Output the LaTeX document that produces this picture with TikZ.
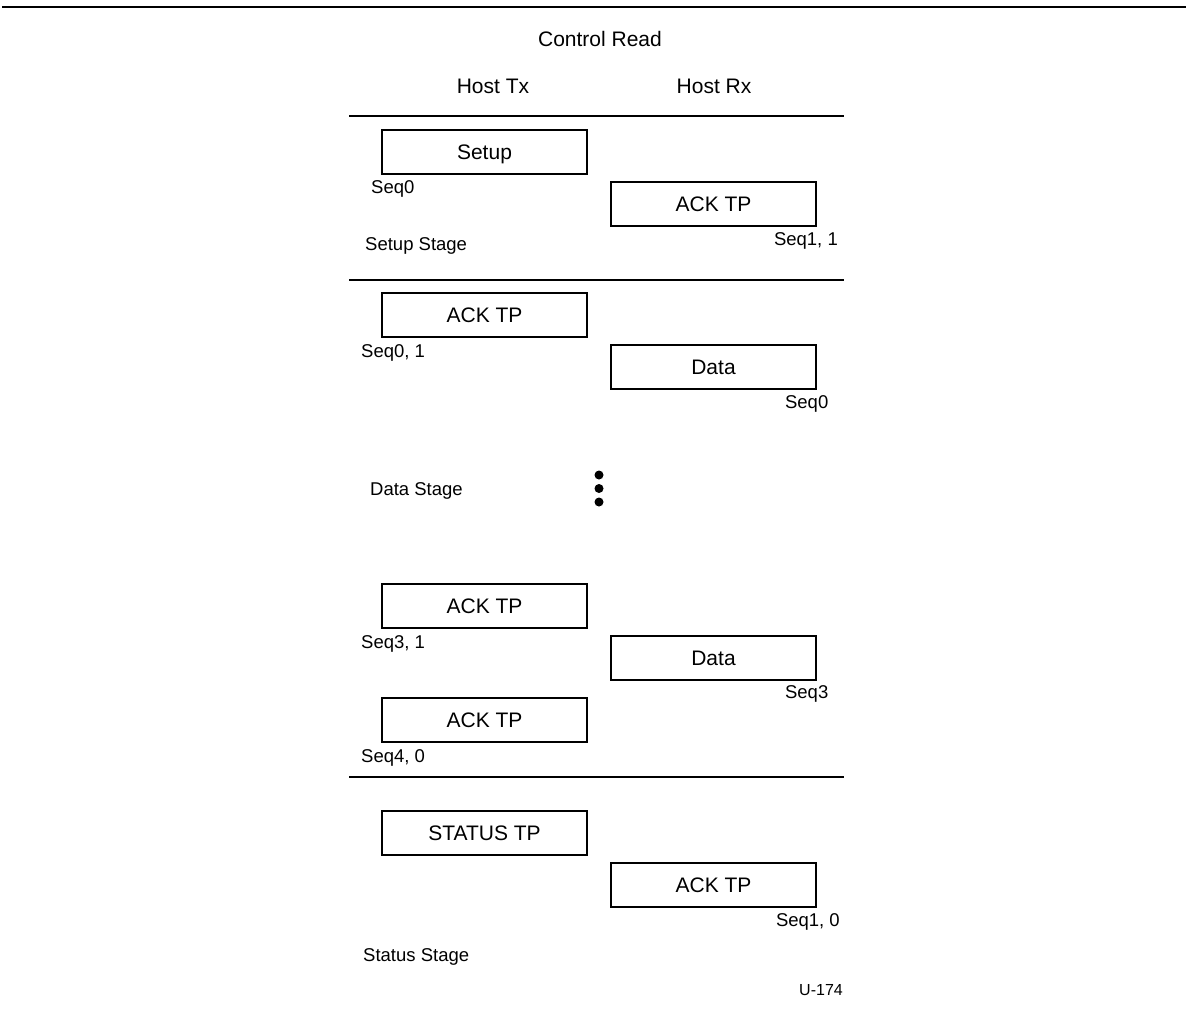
\documentclass[tikz,border=0pt]{standalone}
\usepackage{fontspec}
\setmainfont{Liberation Sans}
\begin{document}
\begin{tikzpicture}[x=1pt,y=-1pt,
  pkt/.style={draw,line width=1.3pt,minimum width=205pt,minimum height=44pt,inner sep=0pt,
    font=\fontsize{21}{24}\selectfont,text height=15pt,text depth=0pt},
  head/.style={inner sep=0pt,font=\fontsize{21}{24}\selectfont},
  lbl/.style={inner sep=0pt,font=\fontsize{18.5}{21}\selectfont},
  tag/.style={inner sep=0pt,font=\fontsize{16}{19}\selectfont},
  rule/.style={line width=1.4pt},
  dot/.style={circle,fill,inner sep=0pt,minimum size=9pt}]
\useasboundingbox (0,0) rectangle (1186,1015);
% top rule
\coordinate (tl) at (2,7);
\coordinate (tr) at (1186,7);
\draw[line width=2.2pt] (tl) -- (tr);
% headers
\node[head,anchor=base] (title) at (600,46) {Control Read};
\node[head,anchor=base] (htx) at (493,93) {Host Tx};
\node[head,anchor=base] (hrx) at (714,93) {Host Rx};
% stage rules
\coordinate (r1a) at (349,116); \coordinate (r1b) at (844,116);
\coordinate (r2a) at (349,280); \coordinate (r2b) at (844,280);
\coordinate (r3a) at (349,777); \coordinate (r3b) at (844,777);
\draw[rule] (r1a) -- (r1b);
\draw[rule] (r2a) -- (r2b);
\draw[rule] (r3a) -- (r3b);
% setup stage
\node[pkt] (setup) at (484.5,152) {Setup};
\node[pkt] (ack1) at (713.5,204) {ACK TP};
\node[lbl,anchor=base west] (s0) at (371,193) {Seq0};
\node[lbl,anchor=base east] (s11) at (838,245) {Seq1, 1};
\node[lbl,anchor=base west] (setupst) at (365,250) {Setup Stage};
% data stage
\node[pkt] (ack2) at (484.5,315) {ACK TP};
\node[pkt] (data1) at (713.5,367) {Data};
\node[lbl,anchor=base west] (s01) at (361,357) {Seq0, 1};
\node[lbl,anchor=base east] (s0b) at (828.5,408) {Seq0};
\node[lbl,anchor=base west] (datast) at (370,495) {Data Stage};
\node[dot] (d1) at (599,475) {};
\node[dot] (d2) at (599,488.5) {};
\node[dot] (d3) at (599,502) {};
\node[pkt] (ack3) at (484.5,606) {ACK TP};
\node[pkt] (data2) at (713.5,658) {Data};
\node[pkt] (ack4) at (484.5,720) {ACK TP};
\node[lbl,anchor=base west] (s31) at (361,648) {Seq3, 1};
\node[lbl,anchor=base east] (s3) at (828.5,698.5) {Seq3};
\node[lbl,anchor=base west] (s40) at (361,762) {Seq4, 0};
% status stage
\node[pkt] (status) at (484.5,833) {STATUS TP};
\node[pkt] (ack5) at (713.5,885) {ACK TP};
\node[lbl,anchor=base east] (s10) at (840,926.5) {Seq1, 0};
\node[lbl,anchor=base west] (statusst) at (363,961.5) {Status Stage};
\node[tag,anchor=base east] (fig) at (843,995) {U-174};
\end{tikzpicture}
\end{document}
